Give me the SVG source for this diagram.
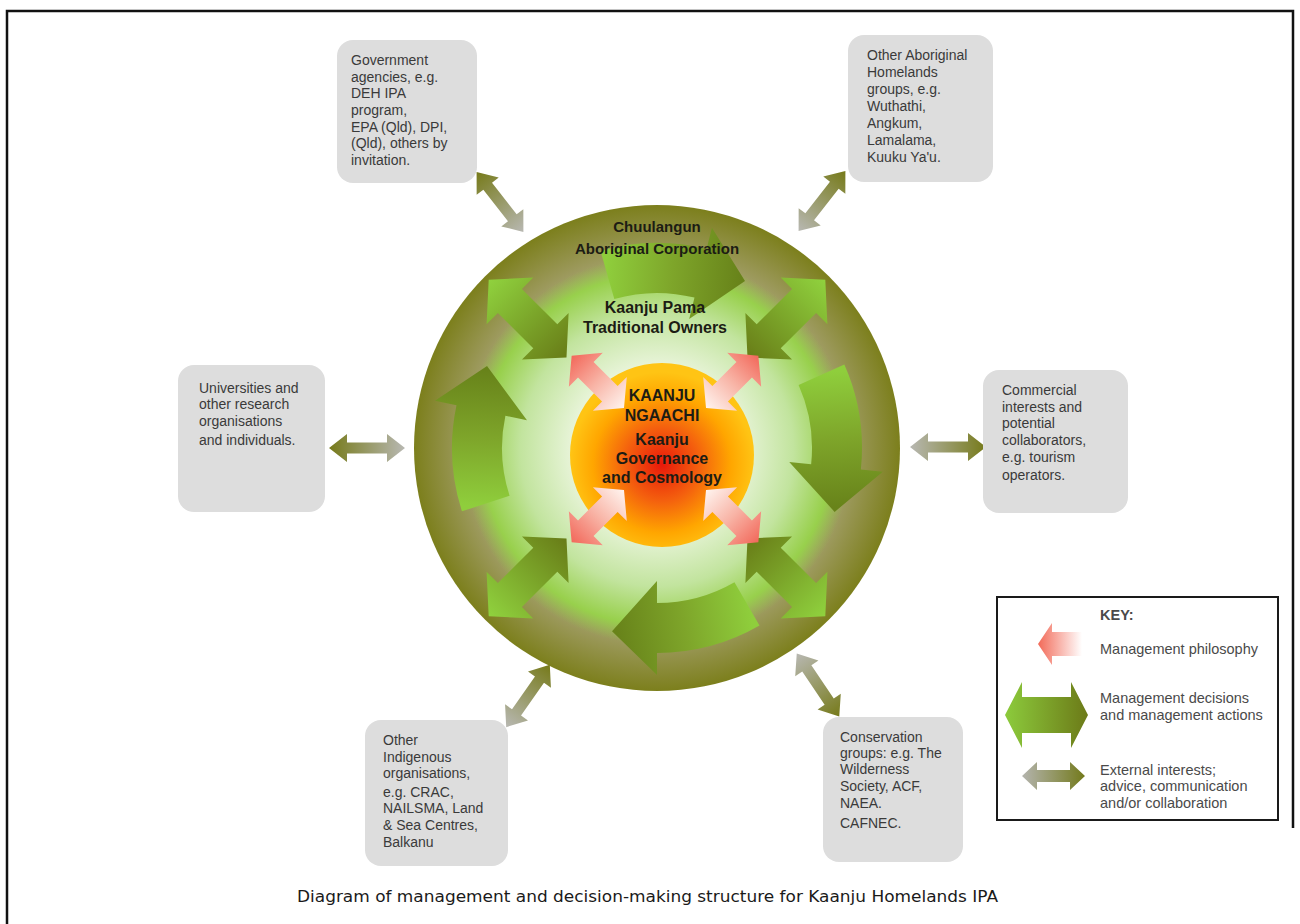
<svg xmlns="http://www.w3.org/2000/svg" xmlns:xlink="http://www.w3.org/1999/xlink" width="1300" height="924" viewBox="0 0 1300 924">
  <defs>
    <style>
      .box { fill: #dddddd; }
      .btxt { font-family: "Liberation Sans", Arial, sans-serif; font-size: 14px; fill: #3a3a3a; }
      .ctxt { font-family: "Liberation Sans", Arial, sans-serif; font-weight: bold; fill: #1c1c14; text-anchor: middle; }
      .ktxt { font-family: "Liberation Sans", Arial, sans-serif; font-size: 14.5px; fill: #4a4a4a; }
    </style>
    <!-- circle layers -->
    <radialGradient id="ringGrad" cx="0.5" cy="0.5" r="0.5">
      <stop offset="0.6" stop-color="#bdb995"/>
      <stop offset="0.8" stop-color="#9d9a5e"/>
      <stop offset="1" stop-color="#7c7f1c"/>
    </radialGradient>
    <radialGradient id="discGrad" cx="0.5" cy="0.5" r="0.5">
      <stop offset="0.42" stop-color="#eaf5dc"/>
      <stop offset="0.7" stop-color="#c2e49e"/>
      <stop offset="0.9" stop-color="#98d04c"/>
      <stop offset="1" stop-color="#8fc640" stop-opacity="0"/>
    </radialGradient>
    <radialGradient id="coreGrad" cx="0.5" cy="0.55" r="0.5">
      <stop offset="0" stop-color="#e8180a"/>
      <stop offset="0.4" stop-color="#f4600e"/>
      <stop offset="0.75" stop-color="#ffa600"/>
      <stop offset="1" stop-color="#ffc414"/>
    </radialGradient>
    <!-- arrow fills -->
    <linearGradient id="curveGrad" gradientUnits="userSpaceOnUse" x1="605" y1="275" x2="740" y2="285">
      <stop offset="0" stop-color="#8fce3c"/>
      <stop offset="0.5" stop-color="#7ea52a"/>
      <stop offset="1" stop-color="#68831a"/>
    </linearGradient>
    <linearGradient id="diagGrad" gradientUnits="userSpaceOnUse" x1="0" y1="210" x2="0" y2="320">
      <stop offset="0" stop-color="#90d23e"/>
      <stop offset="1" stop-color="#687c17"/>
    </linearGradient>
    <linearGradient id="pinkGrad" gradientUnits="userSpaceOnUse" x1="0" y1="317" x2="0" y2="391">
      <stop offset="0" stop-color="#f2685a"/>
      <stop offset="0.5" stop-color="#f8b4a6"/>
      <stop offset="1" stop-color="#fff4ef"/>
    </linearGradient>
    <linearGradient id="extGrad" gradientUnits="userSpaceOnUse" x1="-38" y1="0" x2="38" y2="0">
      <stop offset="0" stop-color="#767a1a"/>
      <stop offset="1" stop-color="#b8b8b2"/>
    </linearGradient>
    <linearGradient id="keyPink" x1="0" y1="0" x2="1" y2="0">
      <stop offset="0" stop-color="#f26a58"/>
      <stop offset="1" stop-color="#ffffff"/>
    </linearGradient>
    <linearGradient id="keyGreen" x1="0" y1="0" x2="1" y2="0">
      <stop offset="0" stop-color="#8ccb3c"/>
      <stop offset="1" stop-color="#6c7a18"/>
    </linearGradient>
    <linearGradient id="keyGray" x1="0" y1="0" x2="1" y2="0">
      <stop offset="0" stop-color="#b4b4ae"/>
      <stop offset="1" stop-color="#737a1c"/>
    </linearGradient>
    <!-- shapes reused by rotation about the circle centre -->
    <path id="curveArrow" fill="url(#curveGrad)"
          d="M600.5,250.9 A205,205 0 0 1 706.6,249.1 L711.9,227.7 L745,281 L689.2,319 L694.5,297.6 A155,155 0 0 0 614.3,299 Z"/>
    <path id="diagArrow" fill="url(#diagGrad)"
          d="M657,210 L690,240 L674,240 L674,290 L690,290 L657,320 L624,290 L640,290 L640,240 L624,240 Z"/>
    <path id="pinkArrow" fill="url(#pinkGrad)"
          d="M665,317 L689,337 L676,337 L676,371 L689,371 L665,391 L641,371 L654,371 L654,337 L641,337 Z"/>
    <path id="extArrow" fill="url(#extGrad)"
          d="M-38,0 L-20,-14 L-20,-5.5 L20,-5.5 L20,-14 L38,0 L20,14 L20,5.5 L-20,5.5 L-20,14 Z"/>
  </defs>

  <rect x="0" y="0" width="1300" height="924" fill="#ffffff"/>
  <!-- page frame -->
  <path d="M7,924 L7,11 L1293,11 L1293,828" fill="none" stroke="#111111" stroke-width="2.5"/>

  <!-- central structure -->
  <g id="circle">
    <circle cx="657" cy="448" r="243" fill="url(#ringGrad)"/>
    <circle cx="657" cy="450" r="195" fill="url(#discGrad)"/>
    <g id="decision-arrows">
      <use xlink:href="#curveArrow"/>
      <use xlink:href="#curveArrow" transform="rotate(82 657 448)"/>
      <use xlink:href="#curveArrow" transform="rotate(166 657 448)"/>
      <use xlink:href="#curveArrow" transform="rotate(268 657 448)"/>
      <use xlink:href="#diagArrow" transform="rotate(45 657 448)"/>
      <use xlink:href="#diagArrow" transform="rotate(135 657 448)"/>
      <use xlink:href="#diagArrow" transform="rotate(225 657 448)"/>
      <use xlink:href="#diagArrow" transform="rotate(315 657 448)"/>
    </g>
    <circle cx="662" cy="455" r="92" fill="url(#coreGrad)"/>
    <g id="philosophy-arrows">
      <use xlink:href="#pinkArrow" transform="rotate(45 665 449)"/>
      <use xlink:href="#pinkArrow" transform="rotate(135 665 449)"/>
      <use xlink:href="#pinkArrow" transform="rotate(225 665 449)"/>
      <use xlink:href="#pinkArrow" transform="rotate(315 665 449)"/>
    </g>
    <text class="ctxt" font-size="15" x="657" y="232">Chuulangun</text>
    <text class="ctxt" font-size="15" x="657" y="254">Aboriginal Corporation</text>
    <text class="ctxt" font-size="16" x="655" y="313">Kaanju Pama</text>
    <text class="ctxt" font-size="16" x="655" y="333">Traditional Owners</text>
    <text class="ctxt" font-size="16" x="662" y="401">KAANJU</text>
    <text class="ctxt" font-size="16" x="662" y="421">NGAACHI</text>
    <text class="ctxt" font-size="16" x="662" y="445" fill="#3a1a08">Kaanju</text>
    <text class="ctxt" font-size="16" x="662" y="464" fill="#3a1a08">Governance</text>
    <text class="ctxt" font-size="16" x="662" y="483" fill="#3a1a08">and Cosmology</text>
  </g>

  <!-- external links -->
  <g id="connectors">
    <use xlink:href="#extArrow" transform="translate(367 448)"/>
    <use xlink:href="#extArrow" transform="translate(948 447) rotate(180)"/>
    <use xlink:href="#extArrow" transform="translate(500 202) rotate(52)"/>
    <use xlink:href="#extArrow" transform="translate(822 201) rotate(128)"/>
    <use xlink:href="#extArrow" transform="translate(528 696) rotate(125)"/>
    <use xlink:href="#extArrow" transform="translate(818 685) rotate(236)"/>
  </g>

  <g id="government">
    <rect class="box" x="337" y="40" width="140" height="143" rx="16"/>
    <text class="btxt" x="351" y="65">Government</text>
    <text class="btxt" x="351" y="81.7">agencies, e.g.</text>
    <text class="btxt" x="351" y="98.3">DEH IPA</text>
    <text class="btxt" x="351" y="115">program,</text>
    <text class="btxt" x="351" y="131.7">EPA (Qld), DPI,</text>
    <text class="btxt" x="351" y="148.3">(Qld), others by</text>
    <text class="btxt" x="351" y="165">invitation.</text>
  </g>

  <g id="aboriginal-groups">
    <rect class="box" x="848" y="35" width="145" height="147" rx="16"/>
    <text class="btxt" x="867" y="60">Other Aboriginal</text>
    <text class="btxt" x="867" y="77">Homelands</text>
    <text class="btxt" x="867" y="94">groups, e.g.</text>
    <text class="btxt" x="867" y="111">Wuthathi,</text>
    <text class="btxt" x="867" y="128">Angkum,</text>
    <text class="btxt" x="867" y="145">Lamalama,</text>
    <text class="btxt" x="867" y="162">Kuuku Ya'u.</text>
  </g>

  <g id="universities">
    <rect class="box" x="178" y="365" width="147" height="147" rx="16"/>
    <text class="btxt" x="199" y="393">Universities and</text>
    <text class="btxt" x="199" y="409">other research</text>
    <text class="btxt" x="199" y="426">organisations</text>
    <text class="btxt" x="199" y="445">and individuals.</text>
  </g>

  <g id="commercial">
    <rect class="box" x="983" y="370" width="145" height="143" rx="16"/>
    <text class="btxt" x="1002" y="395">Commercial</text>
    <text class="btxt" x="1002" y="412">interests and</text>
    <text class="btxt" x="1002" y="428">potential</text>
    <text class="btxt" x="1002" y="445">collaborators,</text>
    <text class="btxt" x="1002" y="462">e.g. tourism</text>
    <text class="btxt" x="1002" y="480">operators.</text>
  </g>

  <g id="indigenous-orgs">
    <rect class="box" x="365" y="720" width="143" height="146" rx="16"/>
    <text class="btxt" x="383" y="745">Other</text>
    <text class="btxt" x="383" y="762">Indigenous</text>
    <text class="btxt" x="383" y="778">organisations,</text>
    <text class="btxt" x="383" y="797">e.g. CRAC,</text>
    <text class="btxt" x="383" y="813">NAILSMA, Land</text>
    <text class="btxt" x="383" y="830">&amp; Sea Centres,</text>
    <text class="btxt" x="383" y="847">Balkanu</text>
  </g>

  <g id="conservation">
    <rect class="box" x="823" y="717" width="140" height="145" rx="16"/>
    <text class="btxt" x="840" y="742">Conservation</text>
    <text class="btxt" x="840" y="758">groups: e.g. The</text>
    <text class="btxt" x="840" y="774">Wilderness</text>
    <text class="btxt" x="840" y="791">Society, ACF,</text>
    <text class="btxt" x="840" y="808">NAEA.</text>
    <text class="btxt" x="840" y="828">CAFNEC.</text>
  </g>

  <g id="key">
    <rect x="997" y="597" width="281" height="223" fill="#ffffff" stroke="#1a1a1a" stroke-width="2"/>
    <text class="ktxt" x="1100" y="620" font-weight="bold" fill="#222222" font-size="13.5">KEY:</text>
    <path fill="url(#keyPink)" d="M1038,644 L1052,623 L1052,632 L1082,632 L1082,656 L1052,656 L1052,665 Z"/>
    <text class="ktxt" x="1100" y="654">Management philosophy</text>
    <path fill="url(#keyGreen)" d="M1005,715 L1022,682 L1022,697 L1071,697 L1071,682 L1088,715 L1071,748 L1071,733 L1022,733 L1022,748 Z"/>
    <text class="ktxt" x="1100" y="703">Management decisions</text>
    <text class="ktxt" x="1100" y="720">and management actions</text>
    <path fill="url(#keyGray)" d="M1022,776 L1037,762 L1037,770 L1070,770 L1070,762 L1085,776 L1070,790 L1070,782 L1037,782 L1037,790 Z"/>
    <text class="ktxt" x="1100" y="775">External interests;</text>
    <text class="ktxt" x="1100" y="791">advice, communication</text>
    <text class="ktxt" x="1100" y="808">and/or collaboration</text>
  </g>

  <text x="297" y="902" font-family="DejaVu Sans, Verdana, sans-serif" font-size="15" fill="#1a1a1a" textLength="701" lengthAdjust="spacingAndGlyphs">Diagram of management and decision-making structure for Kaanju Homelands IPA</text>
</svg>
